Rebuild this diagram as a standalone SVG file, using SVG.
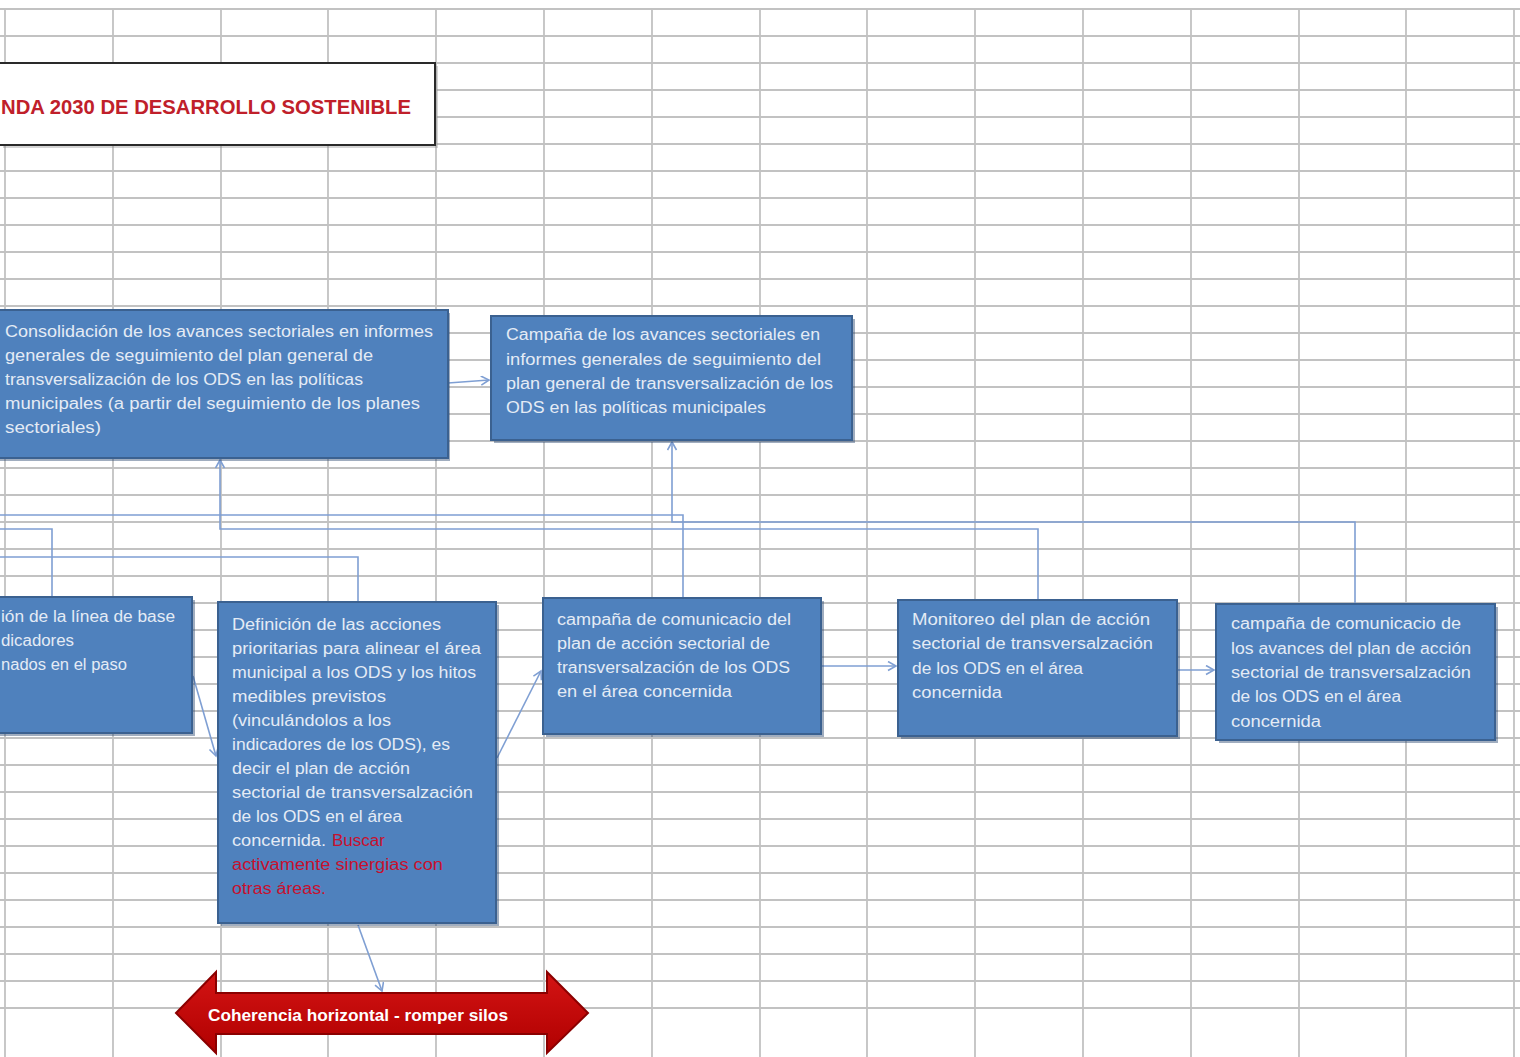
<svg xmlns="http://www.w3.org/2000/svg" width="1520" height="1057" viewBox="0 0 1520 1057">
<style>
.grid{fill:none;stroke:#c2c2c2;stroke-width:1.8}
.box{fill:#4f81bd;stroke:#3b6190;stroke-width:2}
.shadow{fill:#2d4a70;opacity:0.45}
.t{font-family:"Liberation Sans",Arial,sans-serif;font-size:16px;fill:#e4ebf5}
.red{fill:#c8102e}
.con{fill:none;stroke:#7f9fd3;stroke-width:1.6}
.title{font-family:"Liberation Sans",Arial,sans-serif;font-size:21px;font-weight:bold;fill:#c0202a}
.arrowtxt{font-family:"Liberation Sans",Arial,sans-serif;font-size:16px;font-weight:bold;fill:#ffffff}
</style>
<defs>
<marker id="ah" markerUnits="userSpaceOnUse" markerWidth="12" markerHeight="12" refX="9" refY="5" orient="auto">
<path d="M1,0.5 L9,5 L1,9.5" fill="none" stroke="#7f9fd3" stroke-width="1.6"/>
</marker>
<linearGradient id="redg" x1="0" y1="0" x2="0" y2="1">
<stop offset="0" stop-color="#d41414"/>
<stop offset="1" stop-color="#b00000"/>
</linearGradient>
</defs>
<rect x="0" y="0" width="1520" height="1057" fill="#ffffff"/>
<g id="grid">
<path class="grid" d="M0,9h1520m-1520,27h1520m-1520,27h1520m-1520,27h1520m-1520,27h1520m-1520,27h1520m-1520,27h1520m-1520,27h1520m-1520,27h1520m-1520,27h1520m-1520,27h1520m-1520,27h1520m-1520,27h1520m-1520,27h1520m-1520,27h1520m-1520,27h1520m-1520,27h1520m-1520,27h1520m-1520,27h1520m-1520,27h1520m-1520,27h1520m-1520,27h1520m-1520,27h1520m-1520,27h1520m-1520,27h1520m-1520,27h1520m-1520,27h1520m-1520,27h1520m-1520,27h1520m-1520,27h1520m-1520,27h1520m-1520,27h1520m-1520,27h1520m-1520,27h1520m-1520,27h1520m-1520,27h1520m-1520,27h1520m-1520,27h1520"/>
<path class="grid" d="M5,9V1057M113,9V1057M221,9V1057M328,9V1057M436,9V1057M544,9V1057M652,9V1057M760,9V1057M867,9V1057M975,9V1057M1083,9V1057M1191,9V1057M1299,9V1057M1406,9V1057M1514,9V1057"/>
</g>
<g id="connectors">
<path class="con" d="M448,383 L489,380" marker-end="url(#ah)"/>
<path class="con" d="M1038,600 V529 H220 V460" marker-end="url(#ah)"/>
<path class="con" d="M1355,604 V522 H672 V442" marker-end="url(#ah)"/>
<path class="con" d="M683,598 V515 H-10"/>
<path class="con" d="M52,597 V529 H-10"/>
<path class="con" d="M358,602 V557 H-10"/>
<path class="con" d="M193,676 L216,756" marker-end="url(#ah)"/>
<path class="con" d="M497,758 L541,671" marker-end="url(#ah)"/>
<path class="con" d="M822,666 L896,666" marker-end="url(#ah)"/>
<path class="con" d="M1177,670 L1214,670" marker-end="url(#ah)"/>
<path class="con" d="M358,925 L382,991" marker-end="url(#ah)"/>
</g>
<g id="title">
<rect x="3" y="66" width="435" height="82" fill="#888" opacity="0.35"/>
<rect x="-2" y="63" width="437" height="82" fill="#ffffff" stroke="#2a2a2a" stroke-width="2"/>
<text class="title" x="1" y="114" textLength="410" lengthAdjust="spacingAndGlyphs">NDA 2030 DE DESARROLLO SOSTENIBLE</text>
</g>
<g id="n1">
<rect class="shadow" x="-2" y="313" width="452" height="148"/>
<rect class="box" x="-5" y="310" width="453" height="148"/>
<text class="t" x="5" y="337" textLength="428" lengthAdjust="spacingAndGlyphs">Consolidación de los avances sectoriales en informes</text>
<text class="t" x="5" y="361" textLength="368" lengthAdjust="spacingAndGlyphs">generales de seguimiento del plan general de</text>
<text class="t" x="5" y="385" textLength="358" lengthAdjust="spacingAndGlyphs">transversalización de los ODS en las políticas</text>
<text class="t" x="5" y="409" textLength="415" lengthAdjust="spacingAndGlyphs">municipales  (a partir del seguimiento de los planes</text>
<text class="t" x="5" y="433" textLength="96" lengthAdjust="spacingAndGlyphs">sectoriales)</text>
</g>
<g id="n2">
<rect class="shadow" x="494" y="319" width="361" height="124"/>
<rect class="box" x="491" y="316" width="361" height="124"/>
<text class="t" x="506" y="340" textLength="314" lengthAdjust="spacingAndGlyphs">Campaña de los avances sectoriales en</text>
<text class="t" x="506" y="365" textLength="315" lengthAdjust="spacingAndGlyphs">informes generales de seguimiento del</text>
<text class="t" x="506" y="389" textLength="327" lengthAdjust="spacingAndGlyphs">plan general de transversalización de los</text>
<text class="t" x="506" y="413" textLength="260" lengthAdjust="spacingAndGlyphs">ODS en las políticas municipales</text>
</g>
<g id="n3">
<rect class="shadow" x="-2" y="600" width="197" height="136"/>
<rect class="box" x="-5" y="597" width="197" height="136"/>
<text class="t" x="1" y="622" textLength="174" lengthAdjust="spacingAndGlyphs">ión de la línea de base</text>
<text class="t" x="1" y="646" textLength="73" lengthAdjust="spacingAndGlyphs">dicadores</text>
<text class="t" x="1" y="670" textLength="126" lengthAdjust="spacingAndGlyphs">nados en el paso</text>
</g>
<g id="n4">
<rect class="shadow" x="221" y="605" width="278" height="321"/>
<rect class="box" x="218" y="602" width="278" height="321"/>
<text class="t" x="232" y="630" textLength="209" lengthAdjust="spacingAndGlyphs">Definición de las acciones</text>
<text class="t" x="232" y="654" textLength="249" lengthAdjust="spacingAndGlyphs">prioritarias para alinear el área</text>
<text class="t" x="232" y="678" textLength="244" lengthAdjust="spacingAndGlyphs">municipal a los ODS y los hitos</text>
<text class="t" x="232" y="702" textLength="154" lengthAdjust="spacingAndGlyphs">medibles previstos</text>
<text class="t" x="232" y="726" textLength="159" lengthAdjust="spacingAndGlyphs">(vinculándolos a los</text>
<text class="t" x="232" y="750" textLength="218" lengthAdjust="spacingAndGlyphs">indicadores de los ODS), es</text>
<text class="t" x="232" y="774" textLength="178" lengthAdjust="spacingAndGlyphs">decir el plan de acción</text>
<text class="t" x="232" y="798" textLength="241" lengthAdjust="spacingAndGlyphs">sectorial de transversalzación</text>
<text class="t" x="232" y="822" textLength="170" lengthAdjust="spacingAndGlyphs">de los ODS en el área</text>
<text class="t" x="232" y="846"><tspan textLength="94" lengthAdjust="spacingAndGlyphs">concernida.</tspan><tspan class="red" x="332" textLength="53" lengthAdjust="spacingAndGlyphs">Buscar</tspan></text>
<text class="t red" x="232" y="870" textLength="211" lengthAdjust="spacingAndGlyphs">activamente sinergias con</text>
<text class="t red" x="232" y="894" textLength="94" lengthAdjust="spacingAndGlyphs">otras  áreas.</text>
</g>
<g id="n5">
<rect class="shadow" x="546" y="601" width="278" height="136"/>
<rect class="box" x="543" y="598" width="278" height="136"/>
<text class="t" x="557" y="625" textLength="234" lengthAdjust="spacingAndGlyphs">campaña de comunicacio del</text>
<text class="t" x="557" y="649" textLength="213" lengthAdjust="spacingAndGlyphs">plan de acción sectorial de</text>
<text class="t" x="557" y="673" textLength="233" lengthAdjust="spacingAndGlyphs">transversalzación de los ODS</text>
<text class="t" x="557" y="697" textLength="175" lengthAdjust="spacingAndGlyphs">en el área concernida</text>
</g>
<g id="n6">
<rect class="shadow" x="901" y="603" width="279" height="136"/>
<rect class="box" x="898" y="600" width="279" height="136"/>
<text class="t" x="912" y="625" textLength="238" lengthAdjust="spacingAndGlyphs">Monitoreo del plan de acción</text>
<text class="t" x="912" y="649" textLength="241" lengthAdjust="spacingAndGlyphs">sectorial de transversalzación</text>
<text class="t" x="912" y="674" textLength="171" lengthAdjust="spacingAndGlyphs">de los ODS en el área</text>
<text class="t" x="912" y="698" textLength="90" lengthAdjust="spacingAndGlyphs">concernida</text>
</g>
<g id="n7">
<rect class="shadow" x="1219" y="607" width="279" height="136"/>
<rect class="box" x="1216" y="604" width="279" height="136"/>
<text class="t" x="1231" y="629" textLength="230" lengthAdjust="spacingAndGlyphs">campaña de comunicacio de</text>
<text class="t" x="1231" y="654" textLength="240" lengthAdjust="spacingAndGlyphs">los avances del plan de acción</text>
<text class="t" x="1231" y="678" textLength="240" lengthAdjust="spacingAndGlyphs">sectorial de transversalzación</text>
<text class="t" x="1231" y="702" textLength="170" lengthAdjust="spacingAndGlyphs">de los ODS en el área</text>
<text class="t" x="1231" y="727" textLength="90" lengthAdjust="spacingAndGlyphs">concernida</text>
</g>
<g id="n8">
<polygon points="176,1013 216,972 216,993 547,993 547,972 588,1013 547,1053 547,1034 216,1034 216,1053" fill="url(#redg)" stroke="#8b0000" stroke-width="2" stroke-linejoin="miter"/>
<text class="arrowtxt" x="208" y="1021" textLength="300" lengthAdjust="spacingAndGlyphs">Coherencia horizontal - romper silos</text>
</g>
</svg>
